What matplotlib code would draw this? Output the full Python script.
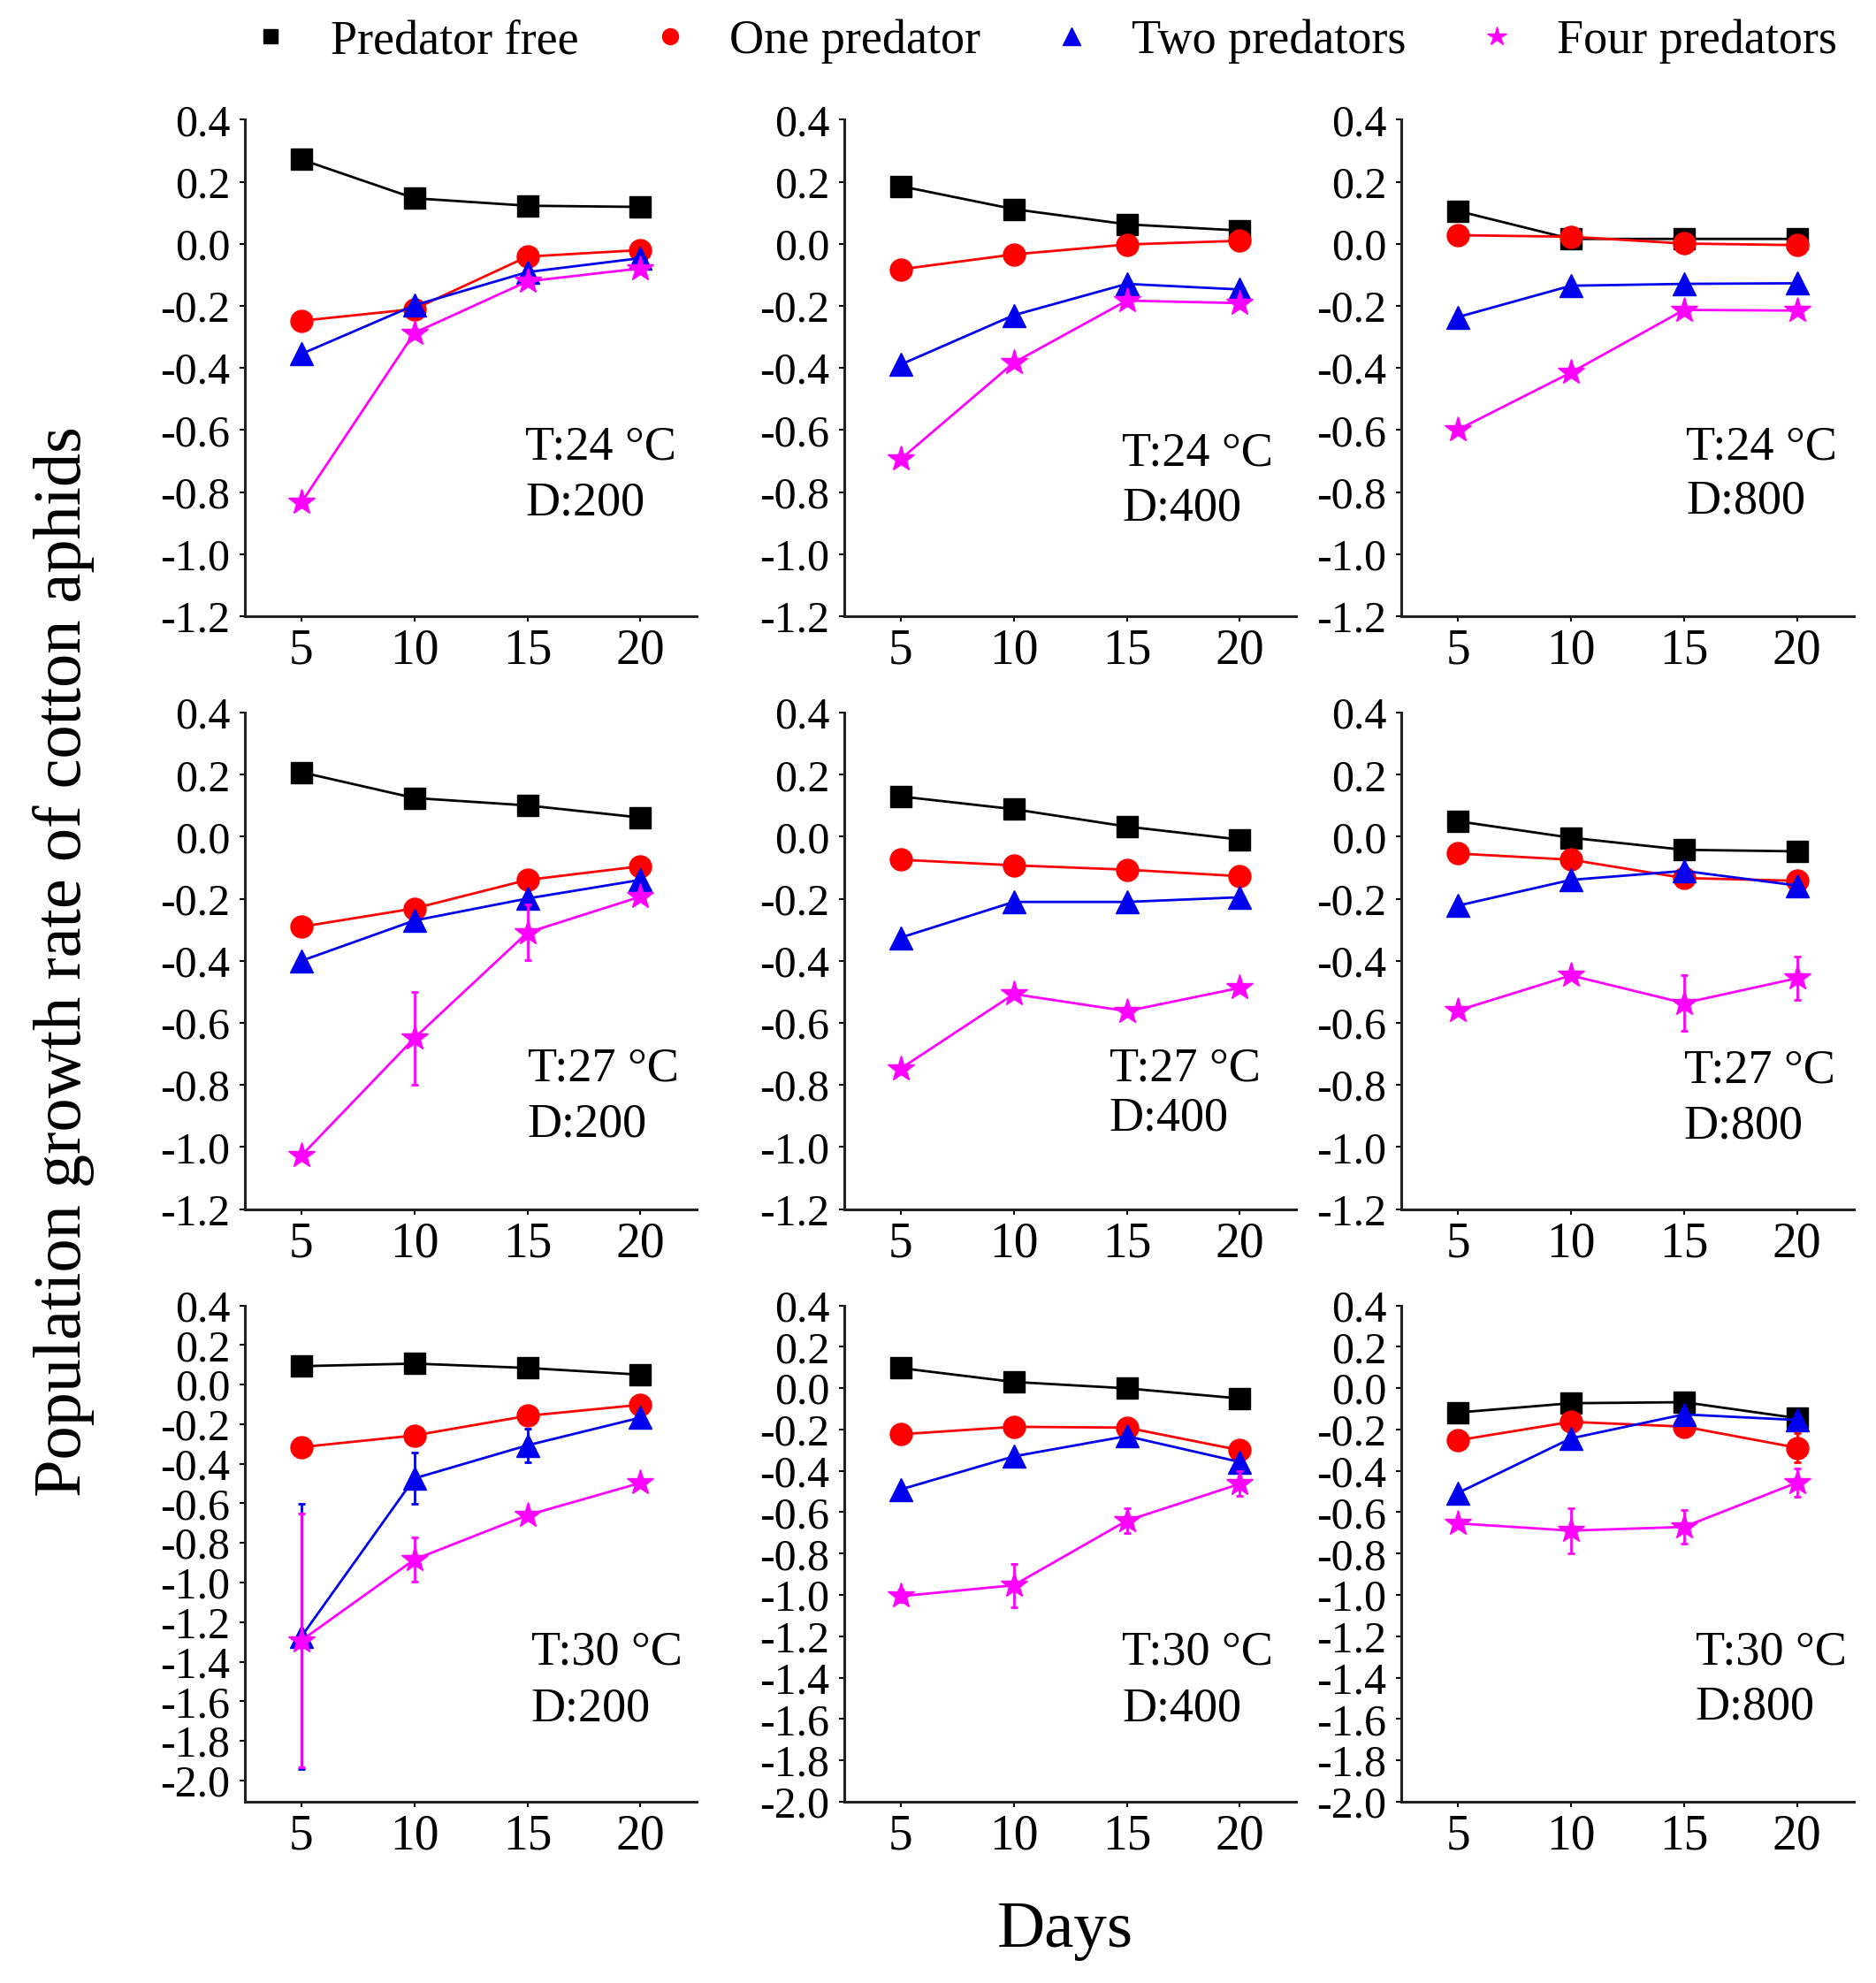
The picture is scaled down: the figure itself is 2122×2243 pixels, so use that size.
import numpy as np
import matplotlib
matplotlib.use('Agg')
import matplotlib.pyplot as plt
from matplotlib.lines import Line2D

plt.rcParams['font.family'] = 'serif'
plt.rcParams['font.serif'] = ['Liberation Serif', 'DejaVu Serif']
plt.rcParams['axes.unicode_minus'] = False

days = [5, 10, 15, 20]
temps = ['24', '27', '30']
densities = ['200', '400', '800']
series_names = ['Predator free', 'One predator', 'Two predators', 'Four predators']

# growth rate per panel [row=temperature][col=density], series order as names
free = [[[0.272, 0.147, 0.123, 0.119], [0.186, 0.112, 0.063, 0.043], [0.106, 0.016, 0.016, 0.016]],
        [[0.208, 0.125, 0.101, 0.062], [0.130, 0.089, 0.033, -0.009], [0.050, -0.003, -0.042, -0.047]],
        [[0.093, 0.106, 0.084, 0.050], [0.097, 0.030, -0.001, -0.050], [-0.118, -0.073, -0.068, -0.145]]]
one = [[[-0.248, -0.210, -0.041, -0.020], [-0.082, -0.034, -0.002, 0.010], [0.028, 0.023, 0.001, -0.004]],
       [[-0.290, -0.231, -0.139, -0.095], [-0.074, -0.092, -0.106, -0.127], [-0.054, -0.074, -0.133, -0.142]],
       [[-0.316, -0.257, -0.158, -0.102], [-0.223, -0.187, -0.191, -0.300], [-0.252, -0.163, -0.186, -0.288]]]
two = [[[-0.355, -0.198, -0.091, -0.046], [-0.389, -0.230, -0.129, -0.147], [-0.236, -0.135, -0.129, -0.127]],
       [[-0.400, -0.270, -0.199, -0.139], [-0.325, -0.210, -0.210, -0.195], [-0.222, -0.139, -0.110, -0.157]],
       [[-1.274, -0.474, -0.307, -0.167], [-0.490, -0.330, -0.232, -0.357], [-0.507, -0.243, -0.127, -0.154]]]
four = [[[-0.834, -0.287, -0.121, -0.079], [-0.694, -0.383, -0.183, -0.191], [-0.599, -0.415, -0.213, -0.215]],
        [[-1.028, -0.649, -0.309, -0.193], [-0.747, -0.507, -0.562, -0.487], [-0.560, -0.447, -0.536, -0.456]],
        [[-1.293, -0.884, -0.660, -0.497], [-1.006, -0.953, -0.641, -0.463], [-0.654, -0.689, -0.671, -0.457]]]

# standard errors (only the visible ones, rest ~0)
err_one = [[[0, 0, 0, 0], [0, 0, 0, 0], [0, 0, 0, 0]],
           [[0, 0, 0, 0], [0, 0, 0, 0], [0, 0, 0, 0]],
           [[0, 0, 0, 0], [0, 0, 0, 0.02], [0, 0, 0, 0.07]]]
err_two = [[[0, 0, 0, 0], [0, 0, 0, 0], [0, 0, 0, 0]],
           [[0, 0, 0, 0], [0, 0, 0, 0], [0, 0, 0, 0]],
           [[0.67, 0.13, 0.085, 0], [0, 0, 0, 0], [0, 0, 0, 0]]]
err_four = [[[0, 0, 0, 0], [0, 0, 0, 0], [0, 0, 0, 0]],
            [[0, 0.15, 0.09, 0], [0, 0, 0, 0], [0, 0, 0.09, 0.07]],
            [[0.64, 0.11, 0, 0], [0.03, 0.105, 0.06, 0.06], [0, 0.11, 0.08, 0.07]]]

# text position of the T/D note per panel (axes fraction: x, y of T line, y of D line)
note_pos = [[(0.62, 0.34, 0.228), (0.615, 0.328, 0.216), (0.63, 0.339, 0.231)],
            [(0.625, 0.282, 0.170), (0.586, 0.282, 0.182), (0.625, 0.278, 0.167)],
            [(0.633, 0.300, 0.187), (0.615, 0.300, 0.187), (0.65, 0.300, 0.190)]]

colors = ['black', '#ff0000', '#0000ee', '#ff00ff']
markers = ['s', 'o', '^', '*']
msizes = [17, 18, 19, 22]

col_left = [0.1305, 0.450, 0.747]
col_w = 0.2410
row_bottom = [0.6893, 0.3903, 0.0914]
row_h = 0.2503

fig = plt.figure(figsize=(21.22, 22.43), dpi=100)

for r in range(3):
    for c in range(3):
        ax = fig.add_axes([col_left[c], row_bottom[r], col_w, row_h])
        data = [free[r][c], one[r][c], two[r][c], four[r][c]]
        errs = [None, err_one[r][c], err_two[r][c], err_four[r][c]]
        for k in range(4):
            ax.errorbar(days, data[k], yerr=errs[k], color=colors[k], marker=markers[k],
                        markersize=msizes[k], lw=2.0, elinewidth=2, capsize=3, capthick=2,
                        zorder=3 + k, clip_on=False)
        ax.set_xlim(2.5, 22.5)
        ax.set_xticks(days)
        if r < 2:
            ax.set_ylim(-1.2, 0.4)
            yt = np.round(np.arange(-1.2, 0.41, 0.2), 1)
        else:
            ax.set_ylim(-2.108 if c == 0 else -2.0, 0.4)
            yt = np.round(np.arange(-2.0, 0.41, 0.2), 1)
        ax.set_yticks(yt)
        ax.set_yticklabels(['%.1f' % abs(v) if abs(v) < 1e-9 else '%.1f' % v for v in yt])
        ax.spines['top'].set_visible(False)
        ax.spines['right'].set_visible(False)
        for s in ['left', 'bottom']:
            ax.spines[s].set_linewidth(2.2)
            ax.spines[s].set_color('#222222')
        ax.tick_params(axis='y', labelsize=36, length=4, width=1.5, pad=8)
        ax.tick_params(axis='x', labelsize=40, length=4, width=1.5, pad=6)
        nx, ny1, ny2 = note_pos[r][c]
        ax.text(nx, ny1, 'T:' + temps[r] + ' \u00b0C', transform=ax.transAxes,
                fontsize=39, ha='left', va='center')
        ax.text(nx, ny2, 'D:' + densities[c], transform=ax.transAxes,
                fontsize=39, ha='left', va='center')

handles = [Line2D([], [], color=colors[k], marker=markers[k], linestyle='none',
                  markersize=[12, 13, 14, 16][k]) for k in range(4)]
fig.legend(handles, series_names, loc='center', bbox_to_anchor=(0.5555, 0.979), ncol=4,
           frameon=False, fontsize=39, handlelength=1.0, handletextpad=0.75,
           columnspacing=1.4)

fig.text(0.034, 0.515, 'Population growth rate of cotton aphids', rotation=90,
         fontsize=55, ha='center', va='center')
fig.text(0.568, 0.026, 'Days', fontsize=54, ha='center', va='center')

fig.savefig('out.png', dpi=100)
